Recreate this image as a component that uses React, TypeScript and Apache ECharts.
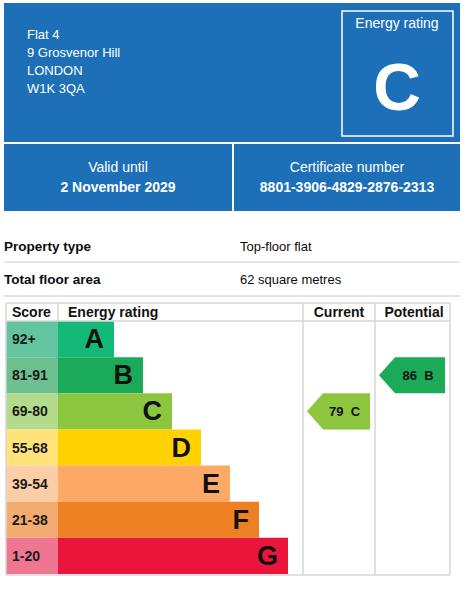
import React, { useEffect, useRef } from "react";
import * as echarts from "echarts";

const addressLines = ["Flat 4", "9 Grosvenor Hill", "LONDON", "W1K 3QA"];
const overallRating = "C";
const validUntil = "2 November 2029";
const certificateNumber = "8801-3906-4829-2876-2313";
const propertyLabels = ["Property type", "Total floor area"];
const propertyValues = ["Top-floor flat", "62 square metres"];

const ratings = ["A", "B", "C", "D", "E", "F", "G"];
const scoreRanges = ["92+", "81-91", "69-80", "55-68", "39-54", "21-38", "1-20"];
const bandSteps = [2, 3, 4, 5, 6, 7, 8];
const scoreCellValues = [1, 1, 1, 1, 1, 1, 1];
const barColors = ["#14b97a", "#1bab58", "#8cc63f", "#ffd200", "#fcaa65", "#ee8024", "#e9153b"];
const scoreColors = ["#63c5a0", "#6cbf8e", "#b4da8b", "#ffe27a", "#fccea7", "#f4ab70", "#ef7690"];
const currentRating = ["C", 79];
const potentialRating = ["B", 86];

const FONT = '"Liberation Sans", Arial, sans-serif';
const BLUE = "#1d70b8";
const LINE = "#d6d6d6";

function txt(text: string, x: number, y: number, size: number, weight: string, fill: string, align = "left") {
  return {
    type: "text",
    z: 10,
    style: {
      text, x, y, fill,
      fontSize: size, fontWeight: weight, fontFamily: FONT,
      align, verticalAlign: "middle",
      textAlign: align, textVerticalAlign: "middle",
    },
  };
}

function hline(x1: number, x2: number, y: number, color: string, w = 1.5) {
  return { type: "line", z: 5, shape: { x1, y1: y, x2, y2: y }, style: { stroke: color, lineWidth: w } };
}
function vline(x: number, y1: number, y2: number, color: string, w = 1.5) {
  return { type: "line", z: 5, shape: { x1: x, y1, x2: x, y2 }, style: { stroke: color, lineWidth: w } };
}

function arrowRender(entry: (string | number)[], colorMap: string[]) {
  return (params: any, api: any) => {
    const idx = ratings.indexOf(entry[0] as string);
    const cs = params.coordSys;
    const bandH = api.size([0, 1])[1];
    const cy = api.coord([0, idx])[1];
    const top = cy - bandH / 2;
    const bottom = cy + bandH / 2;
    const left = cs.x + 4;
    const right = cs.x + cs.width - 5;
    const tip = 16;
    return {
      type: "group",
      children: [
        {
          type: "polygon",
          shape: { points: [[left, cy], [left + tip, top], [right, top], [right, bottom], [left + tip, bottom]] },
          style: { fill: colorMap[idx] },
        },
        {
          type: "text",
          style: {
            text: `${entry[1]}  ${entry[0]}`,
            x: (left + tip + right) / 2 - 2,
            y: cy,
            fill: "#111",
            fontSize: 13,
            fontWeight: "bold",
            fontFamily: FONT,
            align: "center",
            verticalAlign: "middle",
          },
        },
      ],
    };
  };
}

export default function App() {
  const ref = useRef<HTMLDivElement>(null);
  useEffect(() => {
    if (!ref.current) return;
    const chart = echarts.init(ref.current, null, { renderer: "svg" });
    const gridTop = 321;
    const gridH = 253;
    const grids = [
      { left: 6, top: gridTop, width: 52, height: gridH },
      { left: 56, top: gridTop, width: 232, height: gridH },
      { left: 303, top: gridTop, width: 72, height: gridH },
      { left: 375, top: gridTop, width: 75, height: gridH },
    ];
    const xAxes = [
      { gridIndex: 0, type: "value", min: 0, max: 1, show: false },
      { gridIndex: 1, type: "value", min: 0, max: 8, show: false },
      { gridIndex: 2, type: "value", min: 0, max: 1, show: false },
      { gridIndex: 3, type: "value", min: 0, max: 1, show: false },
    ];
    const yAxes = [0, 1, 2, 3].map((g) => ({
      gridIndex: g, type: "category", data: ratings, inverse: true, show: false,
    }));

    const graphic: any[] = [
      { type: "rect", z: 1, shape: { x: 4, y: 3, width: 456, height: 208 }, style: { fill: BLUE } },
      hline(4, 460, 143, "#ffffff", 2),
      vline(233, 143, 211, "#ffffff", 2),
      { type: "rect", z: 3, shape: { x: 342, y: 11, width: 111, height: 125 }, style: { fill: "none", stroke: "#ffffff", lineWidth: 1.5 } },
      txt("Energy rating", 397, 23, 14, "normal", "#ffffff", "center"),
      txt(overallRating, 397, 87, 66, "bold", "#ffffff", "center"),
      ...addressLines.map((l, i) => txt(l, 27, 34 + i * 18, 13, "normal", "#ffffff")),
      txt("Valid until", 118, 167, 14, "normal", "#ffffff", "center"),
      txt(validUntil, 118, 187, 14, "bold", "#ffffff", "center"),
      txt("Certificate number", 347, 167, 14, "normal", "#ffffff", "center"),
      txt(certificateNumber, 347, 187, 14, "bold", "#ffffff", "center"),
      ...propertyLabels.map((l, i) => txt(l, 4, 246 + i * 33, 13.5, "bold", "#0b0c0c")),
      ...propertyValues.map((l, i) => txt(l, 240, 246 + i * 33, 13, "normal", "#0b0c0c")),
      hline(4, 460, 262, "#c8c9ca", 1),
      hline(4, 460, 296, "#c8c9ca", 1),
      // rating table frame
      hline(6, 450, 303, LINE),
      hline(6, 450, 321, LINE),
      hline(6, 450, 575, LINE),
      vline(6, 303, 575, LINE),
      vline(58, 303, 321, LINE),
      vline(303, 303, 575, LINE),
      vline(375, 303, 575, LINE),
      vline(450, 303, 575, LINE),
      txt("Score", 12, 312, 14, "bold", "#111"),
      txt("Energy rating", 68, 312, 14, "bold", "#111"),
      txt("Current", 339, 312, 14, "bold", "#111", "center"),
      txt("Potential", 414, 312, 14, "bold", "#111", "center"),
    ];

    chart.setOption({
      animation: false,
      grid: grids,
      xAxis: xAxes,
      yAxis: yAxes,
      graphic,
      series: [
        {
          type: "bar",
          xAxisIndex: 1,
          yAxisIndex: 1,
          barWidth: "100%",
          z: 2,
          data: bandSteps.map((v, i) => ({ value: v, itemStyle: { color: barColors[i] } })),
          label: {
            show: true,
            position: "insideRight",
            distance: 10,
            formatter: (p: any) => ratings[p.dataIndex],
            color: "#111",
            fontSize: 27,
            fontWeight: "bold",
            fontFamily: FONT,
          },
        },
        {
          type: "bar",
          xAxisIndex: 0,
          yAxisIndex: 0,
          barWidth: "100%",
          z: 3,
          data: scoreCellValues.map((v, i) => ({ value: v, itemStyle: { color: scoreColors[i] } })),
          label: {
            show: true,
            position: "insideLeft",
            distance: 6,
            formatter: (p: any) => scoreRanges[p.dataIndex],
            color: "#1a1a1a",
            fontSize: 14,
            fontWeight: "bold",
            fontFamily: FONT,
          },
        },
        {
          type: "custom",
          xAxisIndex: 2,
          yAxisIndex: 2,
          data: [[0.5, currentRating[0], currentRating[1]]],
          encode: { x: 0, y: 1 },
          renderItem: arrowRender(currentRating, barColors),
        },
        {
          type: "custom",
          xAxisIndex: 3,
          yAxisIndex: 3,
          data: [[0.5, potentialRating[0], potentialRating[1]]],
          encode: { x: 0, y: 1 },
          renderItem: arrowRender(potentialRating, barColors),
        },
      ],
    });
    return () => chart.dispose();
  }, []);
  return (
    <div
      ref={ref}
      style={{ position: "absolute", left: 0, top: 0, width: 469, height: 600, background: "#ffffff" }}
    />
  );
}
